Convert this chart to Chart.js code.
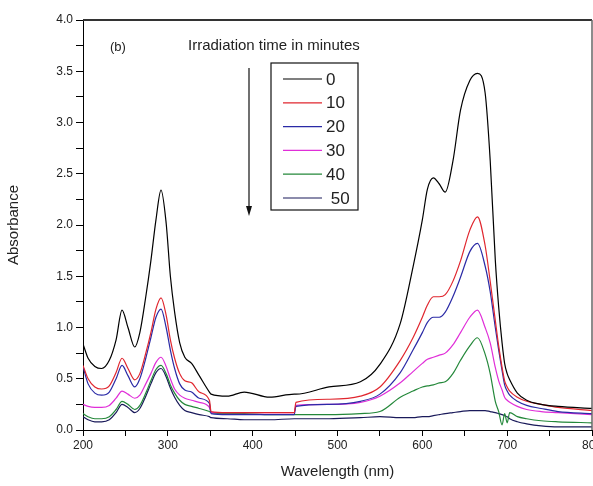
<!DOCTYPE html>
<html lang="en">
<head>
<meta charset="UTF-8">
<title>Absorbance vs Wavelength</title>
<script src="https://cdn.jsdelivr.net/npm/chart.js"></script>
<style>
  html, body { margin: 0; padding: 0; background: #fff; overflow: hidden; }
  #wrap { position: relative; width: 620px; height: 486px; }
</style>
</head>
<body>
<div id="wrap"><canvas id="spectra" width="620" height="486"></canvas></div>
<script>
// wavelength grid (nm), shared by every curve
const wavelengths = [200, 206, 214, 222, 231, 239, 246, 253, 261, 267, 274, 280, 286, 292, 298, 303, 308, 314, 320, 328,
  337, 349, 351, 370, 390, 420, 449, 451, 490, 527, 550, 574, 589, 600, 606, 613, 620, 627, 636, 645,
  656, 665, 674, 680, 686, 690, 694, 697, 700, 703, 712, 723, 740, 760, 800];

// absorbance for each irradiation time
const abs0 = [0.84, 0.70, 0.62, 0.60, 0.68, 0.88, 1.17, 1.00, 0.81, 0.95, 1.30, 1.65, 2.05, 2.34, 2.02, 1.50, 1.15, 0.85, 0.71, 0.65,
  0.53, 0.37, 0.35, 0.33, 0.37, 0.32, 0.35, 0.35, 0.42, 0.47, 0.64, 1.04, 1.59, 2.05, 2.35, 2.46, 2.40, 2.32, 2.62, 3.12,
  3.41, 3.48, 3.29, 2.63, 1.66, 1.20, 0.85, 0.65, 0.55, 0.49, 0.36, 0.29, 0.25, 0.23, 0.21];
const abs10 = [0.63, 0.50, 0.42, 0.40, 0.43, 0.56, 0.70, 0.60, 0.49, 0.55, 0.75, 0.95, 1.18, 1.29, 1.12, 0.88, 0.70, 0.55, 0.48, 0.46,
  0.37, 0.29, 0.18, 0.17, 0.17, 0.17, 0.17, 0.27, 0.30, 0.33, 0.42, 0.68, 0.90, 1.10, 1.22, 1.30, 1.30, 1.32, 1.45, 1.65,
  1.95, 2.08, 1.80, 1.45, 1.07, 0.82, 0.61, 0.48, 0.42, 0.38, 0.32, 0.28, 0.25, 0.22, 0.19];
const abs20 = [0.62, 0.45, 0.36, 0.34, 0.37, 0.50, 0.63, 0.53, 0.42, 0.50, 0.70, 0.90, 1.10, 1.18, 1.00, 0.78, 0.60, 0.45, 0.39, 0.37,
  0.31, 0.26, 0.16, 0.15, 0.15, 0.15, 0.15, 0.23, 0.25, 0.28, 0.35, 0.56, 0.78, 0.95, 1.05, 1.10, 1.10, 1.15, 1.30, 1.49,
  1.74, 1.82, 1.60, 1.35, 1.00, 0.78, 0.58, 0.44, 0.38, 0.34, 0.28, 0.24, 0.21, 0.18, 0.16];
const abs30 = [0.25, 0.23, 0.22, 0.22, 0.24, 0.31, 0.38, 0.35, 0.31, 0.34, 0.45, 0.55, 0.66, 0.71, 0.62, 0.50, 0.40, 0.34, 0.31, 0.29,
  0.27, 0.22, 0.17, 0.17, 0.17, 0.17, 0.17, 0.24, 0.25, 0.27, 0.33, 0.46, 0.57, 0.65, 0.69, 0.71, 0.73, 0.75, 0.83, 0.95,
  1.10, 1.17, 1.00, 0.85, 0.61, 0.48, 0.39, 0.32, 0.29, 0.27, 0.23, 0.20, 0.18, 0.17, 0.15];
const abs40 = [0.16, 0.13, 0.11, 0.11, 0.13, 0.20, 0.28, 0.25, 0.20, 0.24, 0.36, 0.48, 0.59, 0.63, 0.55, 0.44, 0.36, 0.29, 0.25, 0.23,
  0.21, 0.18, 0.17, 0.16, 0.16, 0.15, 0.15, 0.15, 0.15, 0.16, 0.18, 0.32, 0.38, 0.42, 0.43, 0.44, 0.46, 0.47, 0.55, 0.68,
  0.82, 0.90, 0.74, 0.55, 0.28, 0.18, 0.05, 0.16, 0.07, 0.17, 0.13, 0.11, 0.09, 0.08, 0.07];
const abs50 = [0.13, 0.10, 0.08, 0.08, 0.10, 0.17, 0.25, 0.22, 0.17, 0.21, 0.33, 0.45, 0.56, 0.60, 0.52, 0.41, 0.32, 0.24, 0.19, 0.17,
  0.15, 0.13, 0.12, 0.11, 0.10, 0.10, 0.11, 0.11, 0.11, 0.12, 0.13, 0.12, 0.12, 0.13, 0.13, 0.14, 0.15, 0.16, 0.17, 0.18,
  0.19, 0.19, 0.19, 0.18, 0.17, 0.16, 0.15, 0.14, 0.13, 0.11, 0.08, 0.06, 0.04, 0.03, 0.03];

const seriesLabels = ['0', '10', '20', '30', '40', ' 50'];
const seriesColors = ['#000000', '#e0262e', '#2a2aa6', '#e02ed8', '#24883a', '#1a1a5a'];
const seriesValues = [abs0, abs10, abs20, abs30, abs40, abs50];

const xTickLabels = ['200', '300', '400', '500', '600', '700', '800'];
const yTickLabels = ['0.0', '0.5', '1.0', '1.5', '2.0', '2.5', '3.0', '3.5', '4.0'];

const FONT = "'Liberation Sans', Arial, sans-serif";

// frame on top/right, plus the text, arrow and legend drawn inside the plot
const decorations = {
    id: 'decorations',
    afterDraw(chart) {
        const { ctx, chartArea: a } = chart;
        ctx.save();
        ctx.strokeStyle = '#333';
        ctx.lineWidth = 2;
        ctx.beginPath();
        ctx.moveTo(a.left, a.top);
        ctx.lineTo(a.right, a.top);
        ctx.stroke();
        ctx.strokeStyle = '#666';
        ctx.lineWidth = 1.5;
        ctx.beginPath();
        ctx.moveTo(a.right, a.top);
        ctx.lineTo(a.right, a.bottom);
        ctx.stroke();

        ctx.fillStyle = '#222';
        ctx.textBaseline = 'middle';
        ctx.font = '13px ' + FONT;
        ctx.fillText('(b)', 110, 47);
        ctx.font = '15px ' + FONT;
        ctx.fillText('Irradiation time in minutes', 188, 46);

        // arrow
        ctx.strokeStyle = '#111';
        ctx.lineWidth = 1.2;
        ctx.beginPath();
        ctx.moveTo(249, 68);
        ctx.lineTo(249, 212);
        ctx.stroke();
        ctx.fillStyle = '#111';
        ctx.beginPath();
        ctx.moveTo(246, 206);
        ctx.lineTo(252, 206);
        ctx.lineTo(249, 216);
        ctx.closePath();
        ctx.fill();

        // legend box, first series on top
        ctx.strokeStyle = '#111';
        ctx.lineWidth = 1.2;
        ctx.strokeRect(271, 63, 87, 147);
        ctx.font = '17px ' + FONT;
        seriesLabels.forEach((label, i) => {
            const y = 79 + i * 23.8;
            ctx.strokeStyle = seriesColors[i];
            ctx.lineWidth = 1.2;
            ctx.beginPath();
            ctx.moveTo(283, y);
            ctx.lineTo(322, y);
            ctx.stroke();
            ctx.fillStyle = '#222';
            ctx.fillText(label, 326, y + 1);
        });
        ctx.restore();
    }
};

// draw the lowest curves first so the 0 min curve sits on top
const datasets = seriesValues.map((vals, i) => ({
    label: seriesLabels[i],
    data: wavelengths.map((w, j) => ({ x: w, y: vals[j] })),
    borderColor: seriesColors[i],
    borderWidth: 1.2,
    pointRadius: 0,
    fill: false,
    cubicInterpolationMode: 'monotone',
    order: i
}));

new Chart(document.getElementById('spectra'), {
    type: 'line',
    data: { datasets: datasets },
    options: {
        responsive: false,
        devicePixelRatio: 1,
        animation: false,
        layout: { padding: { top: 20, right: 28, left: 0, bottom: 0 } },
        plugins: { legend: { display: false }, tooltip: { enabled: false } },
        scales: {
            x: {
                type: 'linear',
                min: 200,
                max: 800,
                afterFit: s => { s.height = 56; },
                ticks: {
                    stepSize: 50,
                    autoSkip: false,
                    maxRotation: 0,
                    padding: 2,
                    color: '#222',
                    font: { family: FONT, size: 12 },
                    callback: v => xTickLabels.includes(String(v)) ? String(v) : ''
                },
                grid: { drawOnChartArea: false, drawTicks: true, tickLength: 6, color: '#000' },
                border: { color: '#000', width: 1 },
                title: {
                    display: true,
                    text: 'Wavelength (nm)',
                    color: '#222',
                    font: { family: FONT, size: 15 },
                    padding: { top: 4, bottom: 5 }
                }
            },
            y: {
                min: 0,
                max: 4,
                afterFit: s => { s.width = 83; },
                ticks: {
                    stepSize: 0.25,
                    autoSkip: false,
                    padding: 3,
                    color: '#222',
                    font: { family: FONT, size: 12 },
                    callback: v => yTickLabels.includes(v.toFixed(1)) && Math.abs(v * 2 - Math.round(v * 2)) < 1e-6 ? v.toFixed(1) : ''
                },
                grid: { drawOnChartArea: false, drawTicks: true, tickLength: 7, color: '#000' },
                border: { color: '#000', width: 1 },
                title: {
                    display: true,
                    text: 'Absorbance',
                    color: '#222',
                    font: { family: FONT, size: 15 },
                    padding: { top: 5, bottom: 4 }
                }
            }
        }
    },
    plugins: [decorations]
});
</script>
</body>
</html>
